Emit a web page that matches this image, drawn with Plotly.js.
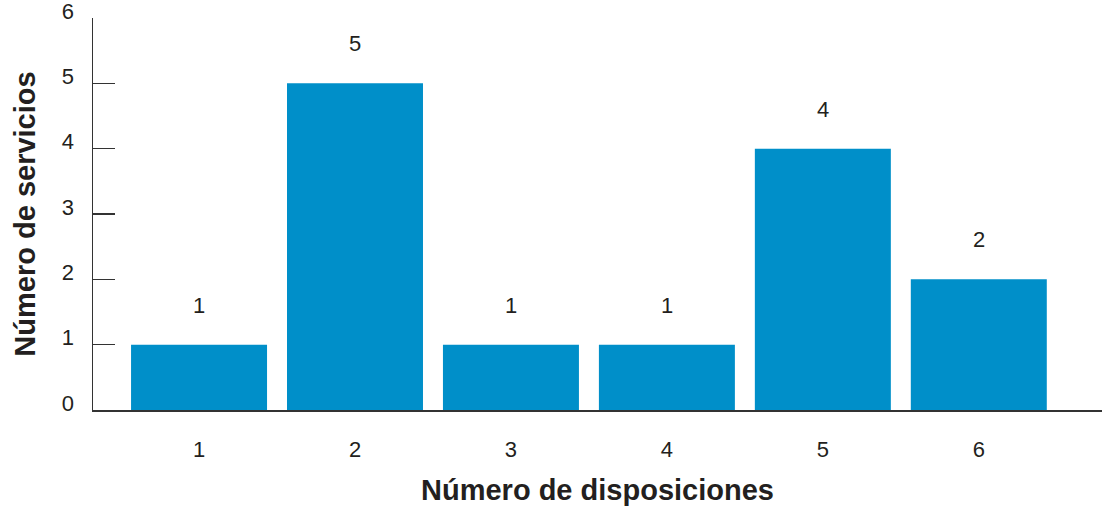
<!DOCTYPE html>
<html><head><meta charset="utf-8">
<script src="https://cdn.plot.ly/plotly-3.0.1.min.js"></script>
<style>body{margin:0;background:#fff}#c{width:1105px;height:506px}</style>
</head><body><div id="c"></div>
<script>
const categories = [1, 2, 3, 4, 5, 6];
const values = [1, 5, 1, 1, 4, 2];
const yTicks = [0, 1, 2, 3, 4, 5, 6];

const trace = {
  type: 'bar', x: categories, y: values, width: 0.872,
  marker: {color: '#008FC9', line: {width: 0}},
  hoverinfo: 'none'
};
const annotations = categories.map((c, i) => ({
  x: c, y: values[i], xref: 'x', yref: 'y', text: String(values[i]),
  showarrow: false, yanchor: 'bottom', yshift: 25,
  font: {family: 'Liberation Sans, Arial, sans-serif', size: 22, color: '#231f20'}
}));
const layout = {
  width: 1105, height: 506,
  margin: {l: 93, r: 3, t: 18, b: 96},
  paper_bgcolor: '#fff', plot_bgcolor: '#fff',
  font: {family: 'Liberation Sans, Arial, sans-serif', color: '#231f20', size: 22},
  showlegend: false,
  xaxis: {range: [0.32, 6.79], tickvals: categories, ticktext: categories.map(String),
    showgrid: false, zeroline: false, showline: true, linecolor: '#333', linewidth: 1.5,
    ticks: '', ticklabelstandoff: 19,
    title: {text: '<b>Número de disposiciones</b>', font: {size: 29}, standoff: 19}},
  yaxis: {range: [0, 6], tickvals: yTicks, showgrid: false, zeroline: false,
    showline: true, linecolor: '#333', linewidth: 1.5,
    ticks: 'inside', ticklen: 22, tickcolor: '#333', tickwidth: 1.5,
    ticklabelstandoff: 13, ticklabelshift: -7, ticklabeloverflow: 'allow',
    title: {text: '<b>Número de servicios</b>', font: {size: 29}, standoff: 17}},
  annotations: annotations
};
Plotly.newPlot('c', [trace], layout, {displayModeBar: false, staticPlot: true});
</script></body></html>
